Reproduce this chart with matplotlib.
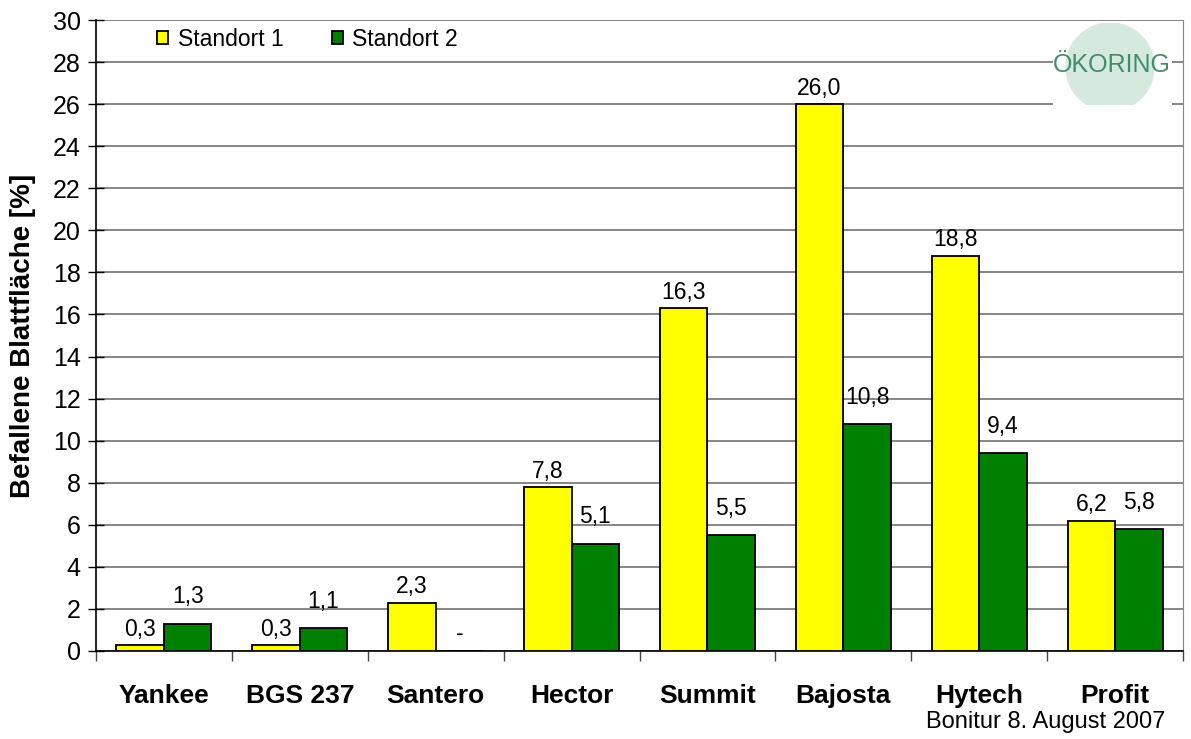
import numpy as np
import matplotlib.pyplot as plt
from matplotlib.patches import Circle

plt.rcParams['font.family'] = ['Liberation Sans', 'DejaVu Sans']

# data
sorten = ['Yankee', 'BGS 237', 'Santero', 'Hector', 'Summit', 'Bajosta', 'Hytech', 'Profit']
standort1 = [0.3, 0.3, 2.3, 7.8, 16.3, 26.0, 18.8, 6.2]
standort2 = [1.3, 1.1, None, 5.1, 5.5, 10.8, 9.4, 5.8]
yticks = list(range(0, 31, 2))


def fmt(v):
    if v is None:
        return '-'
    return '{:.1f}'.format(v).replace('.', ',')


fig = plt.figure(figsize=(11.91, 7.39), dpi=100)
ax = fig.add_axes([96 / 1191, 1 - 651 / 739, (1183 - 96) / 1191, (651 - 20) / 739])

x = np.arange(len(sorten))
w = 0.35
s2 = [0 if v is None else v for v in standort2]

b1 = ax.bar(x - w / 2, standort1, w, color='#ffff00', edgecolor='black',
            linewidth=1.3, label='Standort 1', zorder=3)
b2 = ax.bar(x + w / 2, s2, w, color='#008000', edgecolor='black',
            linewidth=1.3, label='Standort 2', zorder=3)

for xi, v in zip(x, standort1):
    ax.annotate(fmt(v), (xi - w / 2, v), xytext=(0, 3), textcoords='offset points',
                ha='center', va='bottom', fontsize=16.5)
for xi, v in zip(x, standort2):
    h = 0 if v is None else v
    off = 4 if v is None else 11
    ax.annotate(fmt(v), (xi + w / 2, h), xytext=(0, off), textcoords='offset points',
                ha='center', va='bottom', fontsize=16.5)

ax.set_xlim(-0.5, len(sorten) - 0.5)
ax.set_ylim(0, 30)
ax.set_yticks(yticks)
ax.set_yticklabels([str(t) for t in yticks], fontsize=18)
ax.yaxis.grid(True, color='#666666', linewidth=1.1, zorder=0)
ax.set_axisbelow(True)

ax.set_xticks(np.arange(-0.5, len(sorten), 1))
ax.set_xticklabels([])
ax.set_xticks(x, minor=True)
ax.set_xticklabels(sorten, minor=True, fontsize=19, fontweight='bold')
ax.tick_params(axis='x', which='major', direction='out', length=7, width=1, color='#444444')
ax.tick_params(axis='x', which='minor', length=0, pad=24)
ax.tick_params(axis='y', direction='inout', length=12, width=1, pad=5)

ax.spines['top'].set_visible(False)
ax.spines['right'].set_color('#888888')
ax.spines['left'].set_linewidth(1.2)
ax.spines['bottom'].set_linewidth(1.2)

ax.set_ylabel('Befallene Blattfläche [%]', fontsize=20, fontweight='bold')
ax.yaxis.set_label_coords((36 - 96) / 1087, 0.5)

leg = ax.legend(loc='upper left', bbox_to_anchor=((157 - 96) / 1087, 0.988), ncol=2,
                frameon=False, fontsize=16.5, handlelength=0.5, handleheight=0.5,
                handletextpad=0.4, columnspacing=2.1, borderpad=0, borderaxespad=0)

fig.text(1165 / 1191, 1 - 722 / 739, 'Bonitur 8. August 2007', ha='right', va='center',
         fontsize=17)

# logo
lax = fig.add_axes([1053 / 1191, 1 - 105 / 739, 119 / 1191, 82 / 739])
lax.set_xlim(0, 119)
lax.set_ylim(0, 82)
lax.axis('off')
box = plt.Rectangle((0, 0), 119, 82, color='white', zorder=0)
lax.add_patch(box)
circ = Circle((57, 38), 44, color='#d6e9df', zorder=1)
lax.add_patch(circ)
circ.set_clip_path(box)
lax.text(59, 40, 'ÖKORING', ha='center', va='center', fontsize=18,
         color='#3f8f68', zorder=2)

plt.savefig('out.png', dpi=100)
